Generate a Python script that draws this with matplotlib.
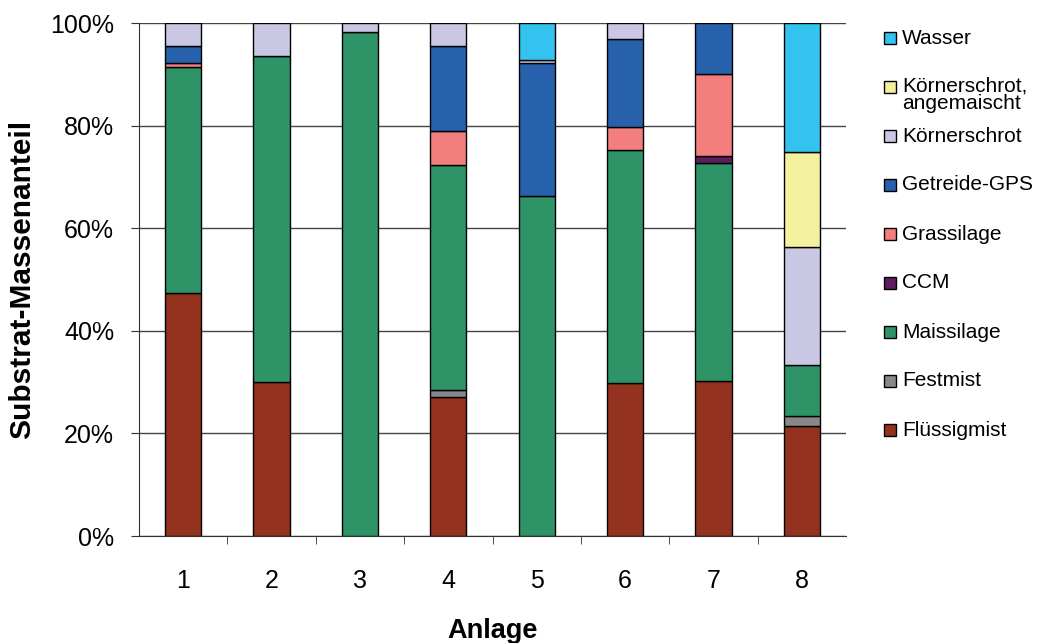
import matplotlib.pyplot as plt
import numpy as np
from matplotlib.patches import Rectangle
from matplotlib.ticker import PercentFormatter, FixedLocator

plt.rcParams['font.family'] = ['Liberation Sans', 'DejaVu Sans']

anlagen = ["1", "2", "3", "4", "5", "6", "7", "8"]

# mass shares in percent, bottom to top of the stack
fluessigmist = [47.3, 30.0, 0.0, 27.0, 0.0, 29.8, 30.2, 21.4]
festmist = [0.0, 0.0, 0.0, 1.4, 0.0, 0.0, 0.0, 2.0]
maissilage = [44.1, 63.6, 98.2, 43.9, 66.2, 45.5, 42.6, 9.9]
ccm = [0.0, 0.0, 0.0, 0.0, 0.0, 0.0, 1.2, 0.0]
grassilage = [0.8, 0.0, 0.0, 6.7, 0.0, 4.4, 16.1, 0.0]
getreide_gps = [3.4, 0.0, 0.0, 16.5, 26.1, 17.2, 9.9, 0.0]
koernerschrot = [4.4, 6.4, 1.8, 4.5, 0.5, 3.1, 0.0, 23.0]
koernerschrot_angem = [0.0, 0.0, 0.0, 0.0, 0.0, 0.0, 0.0, 18.5]
wasser = [0.0, 0.0, 0.0, 0.0, 7.2, 0.0, 0.0, 25.2]

series = [
    ("Flüssigmist", fluessigmist, "#93331F"),
    ("Festmist", festmist, "#888888"),
    ("Maissilage", maissilage, "#2E9366"),
    ("CCM", ccm, "#5E1D5E"),
    ("Grassilage", grassilage, "#F27E7E"),
    ("Getreide-GPS", getreide_gps, "#2761AB"),
    ("Körnerschrot", koernerschrot, "#C9C7E3"),
    ("Körnerschrot,\nangemaischt", koernerschrot_angem, "#F3F09E"),
    ("Wasser", wasser, "#33C3EE"),
]

fig = plt.figure(figsize=(10.4, 6.43), dpi=100)
ax = fig.add_axes([0.1337, 0.1664, 0.6798, 0.7978])

x = np.arange(1, len(anlagen) + 1)
bottom = np.zeros(len(anlagen))
for name, vals, color in series:
    vals = np.array(vals)
    keep = vals > 0
    ax.bar(x[keep], vals[keep], width=0.41, bottom=bottom[keep], color=color,
           edgecolor="black", linewidth=1.0, zorder=3)
    bottom += vals

ax.set_xlim(0.5, 8.5)
ax.set_ylim(0, 100)
ax.set_yticks(np.arange(0, 101, 20))
ax.yaxis.set_major_formatter(PercentFormatter(decimals=0))
ax.grid(axis="y", color="#444444", linewidth=1.0, zorder=0)

ax.set_xticks(x)
ax.set_xticklabels(anlagen)
ax.xaxis.set_minor_locator(FixedLocator(np.arange(1.5, 8.5, 1.0)))
ax.tick_params(axis="x", which="major", length=0, pad=24, labelsize=18)
ax.tick_params(axis="x", which="minor", length=6, direction="out", color="#333333")
ax.tick_params(axis="y", length=6, direction="out", labelsize=18, pad=12, color="#333333")

for side in ("top", "right"):
    ax.spines[side].set_visible(False)
for side in ("left", "bottom"):
    ax.spines[side].set_color("#333333")

ax.set_ylabel("Substrat-Massenanteil", fontsize=21.5, fontweight="bold", va="center")
ax.yaxis.set_label_coords(-0.165, 0.5)
ax.set_xlabel("Anlage", fontsize=19.5, fontweight="bold", va="center")
ax.xaxis.set_label_coords(0.5, -0.185)

# legend drawn in figure pixels, top entry first
W, H = 1040, 643
for i, (name, vals, color) in enumerate(reversed(series)):
    ypx = 38 + 49 * i
    fig.patches.append(Rectangle((884 / W, 1 - (ypx + 6) / H), 12 / W, 12 / H,
                                 transform=fig.transFigure, facecolor=color,
                                 edgecolor="black", linewidth=1.0))
    if "\n" in name:
        fig.text(902 / W, 1 - (ypx - 11) / H, name, fontsize=15, va="top",
                 ha="left", linespacing=0.95)
    else:
        fig.text(902 / W, 1 - ypx / H, name, fontsize=15, va="center", ha="left")

fig.savefig("out.png", dpi=100)
